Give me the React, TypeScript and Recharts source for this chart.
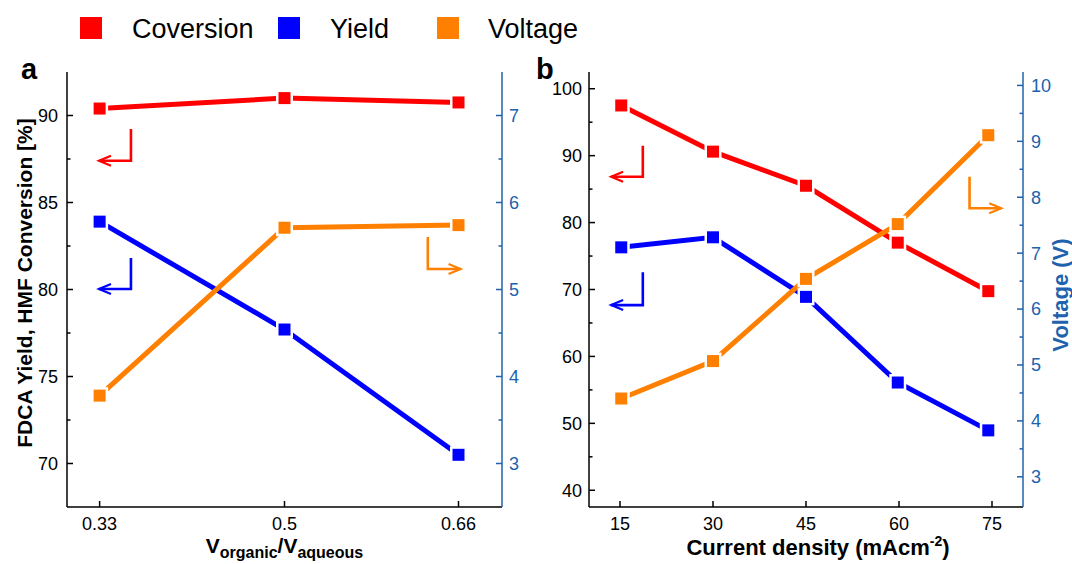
import React from "react";
import { LineChart, Line, XAxis, YAxis, ReferenceLine } from "recharts";

const FONT = "'Liberation Sans', Arial, Helvetica, sans-serif";
const RED = "#ff0000";
const BLUE = "#0000ff";
const ORANGE = "#ff8000";
const AXIS_BLUE = "#2062ad";

// panel a: organic / aqueous volume ratio
const ratioValues = [0.33, 0.5, 0.66];
const ratioConversion = [90.4, 91.0, 90.75];
const ratioYield = [83.9, 77.7, 70.5];
const ratioVoltage = [3.78, 5.71, 5.74];
const ratioTicks = [0.33, 0.5, 0.66];
const ratioPctTicks = [70, 75, 80, 85, 90];
const ratioPctMinor = [72.5, 77.5, 82.5, 87.5];
const ratioVoltTicks = [3, 4, 5, 6, 7];
const ratioVoltMinor = [3.5, 4.5, 5.5, 6.5];

// panel b: current density
const densityValues = [15.2, 30, 45, 59.8, 74.4];
const densityConversion = [97.5, 90.6, 85.5, 77.0, 69.75];
const densityYield = [76.3, 77.8, 68.9, 56.1, 48.95];
const densityVoltage = [4.4, 5.07, 6.54, 7.52, 9.11];
const densityTicks = [15, 30, 45, 60, 75];
const densityPctTicks = [40, 50, 60, 70, 80, 90, 100];
const densityPctMinor = [45, 55, 65, 75, 85, 95];
const densityVoltTicks = [3, 4, 5, 6, 7, 8, 9, 10];
const densityVoltMinor = [3.5, 4.5, 5.5, 6.5, 7.5, 8.5, 9.5];

const ratioData = ratioValues.map((x, i) => ({
  x,
  conversion: ratioConversion[i],
  yield: ratioYield[i],
  voltage: ratioVoltage[i],
}));

const densityData = densityValues.map((x, i) => ({
  x,
  conversion: densityConversion[i],
  yield: densityYield[i],
  voltage: densityVoltage[i],
}));

type Side = "left" | "right" | "bottom" | "top";

// inward ticks, major ones labelled
function makeTick(side: Side, major: number[], margin: number, color: string) {
  return (props: any) => {
    const { x, y, payload, index } = props;
    const v = payload.value;
    const isMajor = major.some((m) => Math.abs(m - v) < 1e-9);
    const len = isMajor ? 6 : 3.5;
    const lineStyle = { stroke: color, strokeWidth: 1.5 };
    const textStyle = { fontSize: 18, fontFamily: FONT, fill: color };
    let tickLine = null;
    let label = null;
    if (side === "left") {
      const ax = x + margin;
      tickLine = <line x1={ax} x2={ax + len} y1={y} y2={y} {...lineStyle} />;
      label = (
        <text x={x} y={y} dy="0.355em" textAnchor="end" {...textStyle}>
          {v}
        </text>
      );
    } else if (side === "right") {
      const ax = x - margin;
      tickLine = <line x1={ax - len} x2={ax} y1={y} y2={y} {...lineStyle} />;
      label = (
        <text x={x} y={y} dy="0.355em" textAnchor="start" {...textStyle}>
          {v}
        </text>
      );
    } else if (side === "bottom") {
      const ay = y - margin;
      tickLine = <line x1={x} x2={x} y1={ay - len} y2={ay} {...lineStyle} />;
      label = (
        <text x={x} y={y} dy="0.71em" textAnchor="middle" {...textStyle}>
          {v}
        </text>
      );
    } else {
      tickLine = <line x1={x} x2={x} y1={y} y2={y + len} {...lineStyle} />;
    }
    return (
      <g key={`tick-${side}-${index}`}>
        {tickLine}
        {isMajor && label}
      </g>
    );
  };
}

// square marker with a white gap around it, like the Origin plot
const squareDot = (color: string) => (props: any) => {
  const { cx, cy, index } = props;
  if (cx == null || cy == null) return <g key={`d-${index}`} />;
  return (
    <g key={`d-${color}-${index}`}>
      <rect x={cx - 8.5} y={cy - 8.5} width={17} height={17} fill="#fff" />
      <rect x={cx - 6} y={cy - 6} width={12} height={12} fill={color} />
    </g>
  );
};

// L-shaped arrow: vertical stroke at the first point, then horizontal to the tip
const arrowShape = (color: string) => (p: any) => {
  const { x1, y1, x2, y2 } = p;
  const dir = x2 > x1 ? 1 : -1;
  return (
    <g>
      <path d={`M${x1},${y1} V${y2} H${x2}`} fill="none" stroke={color} strokeWidth={2.6} />
      <path
        d={`M${x2 - dir * 12},${y2 - 5} L${x2},${y2} L${x2 - dir * 12},${y2 + 5}`}
        fill="none"
        stroke={color}
        strokeWidth={2.2}
      />
    </g>
  );
};

const merge = (a: number[], b: number[]) => [...a, ...b].sort((p, q) => p - q);

const lineProps = {
  strokeWidth: 5,
  strokeLinecap: "round" as const,
  activeDot: false,
  isAnimationActive: false,
};

function RatioChart() {
  return (
    <LineChart width={540} height={564} data={ratioData} margin={{ top: 72, right: 0, bottom: 0, left: 0 }}>
      <XAxis
        dataKey="x"
        type="number"
        domain={[0.3, 0.7]}
        ticks={ratioTicks}
        interval={0}
        height={57}
        tickSize={0}
        tickMargin={10}
        tickLine={false}
        axisLine={{ stroke: "#000", strokeWidth: 1.5 }}
        tick={makeTick("bottom", ratioTicks, 10, "#000")}
      />
      <XAxis
        xAxisId="top"
        orientation="top"
        type="number"
        domain={[0.3, 0.7]}
        ticks={ratioTicks}
        interval={0}
        height={0}
        tickSize={0}
        tickMargin={0}
        tickLine={false}
        axisLine={{ stroke: "#000", strokeWidth: 1.5 }}
        tick={makeTick("top", ratioTicks, 0, "#000")}
      />
      <YAxis
        yAxisId="left"
        type="number"
        domain={[67.5, 92.5]}
        ticks={merge(ratioPctTicks, ratioPctMinor)}
        interval={0}
        width={67}
        tickSize={0}
        tickMargin={9}
        tickLine={false}
        axisLine={{ stroke: "#000", strokeWidth: 1.5 }}
        tick={makeTick("left", ratioPctTicks, 9, "#000")}
      />
      <YAxis
        yAxisId="right"
        orientation="right"
        type="number"
        domain={[2.5, 7.5]}
        ticks={merge(ratioVoltTicks, ratioVoltMinor)}
        interval={0}
        width={38}
        tickSize={0}
        tickMargin={7}
        tickLine={false}
        axisLine={{ stroke: AXIS_BLUE, strokeWidth: 1.5 }}
        tick={makeTick("right", ratioVoltTicks, 7, AXIS_BLUE)}
      />
      <ReferenceLine yAxisId="left" segment={[{ x: 0.3588, y: 89.22 }, { x: 0.3294, y: 87.4 }]} shape={arrowShape(RED)} />
      <ReferenceLine yAxisId="left" segment={[{ x: 0.3588, y: 81.81 }, { x: 0.3294, y: 80.03 }]} shape={arrowShape(BLUE)} />
      <ReferenceLine yAxisId="left" segment={[{ x: 0.6318, y: 83.02 }, { x: 0.6619, y: 81.18 }]} shape={arrowShape(ORANGE)} />
      <Line yAxisId="left" dataKey="yield" stroke={BLUE} dot={squareDot(BLUE)} {...lineProps} />
      <Line yAxisId="left" dataKey="conversion" stroke={RED} dot={squareDot(RED)} {...lineProps} />
      <Line yAxisId="right" dataKey="voltage" stroke={ORANGE} dot={squareDot(ORANGE)} {...lineProps} />
    </LineChart>
  );
}

function DensityChart() {
  return (
    <LineChart width={552} height={564} data={densityData} margin={{ top: 72, right: 0, bottom: 0, left: 0 }}>
      <XAxis
        dataKey="x"
        type="number"
        domain={[10, 80]}
        ticks={densityTicks}
        interval={0}
        height={57}
        tickSize={0}
        tickMargin={10}
        tickLine={false}
        axisLine={{ stroke: "#000", strokeWidth: 1.5 }}
        tick={makeTick("bottom", densityTicks, 10, "#000")}
      />
      <XAxis
        xAxisId="top"
        orientation="top"
        type="number"
        domain={[10, 80]}
        ticks={densityTicks}
        interval={0}
        height={0}
        tickSize={0}
        tickMargin={0}
        tickLine={false}
        axisLine={{ stroke: "#000", strokeWidth: 1.5 }}
        tick={makeTick("top", densityTicks, 0, "#000")}
      />
      <YAxis
        yAxisId="left"
        type="number"
        domain={[37.5, 102.5]}
        ticks={merge(densityPctTicks, densityPctMinor)}
        interval={0}
        width={69}
        tickSize={0}
        tickMargin={7}
        tickLine={false}
        axisLine={{ stroke: "#000", strokeWidth: 1.5 }}
        tick={makeTick("left", densityPctTicks, 7, "#000")}
      />
      <YAxis
        yAxisId="right"
        orientation="right"
        type="number"
        domain={[2.46, 10.24]}
        ticks={merge(densityVoltTicks, densityVoltMinor)}
        interval={0}
        width={49}
        tickSize={0}
        tickMargin={8}
        tickLine={false}
        axisLine={{ stroke: AXIS_BLUE, strokeWidth: 1.5 }}
        tick={makeTick("right", densityVoltTicks, 8, AXIS_BLUE)}
      />
      <ReferenceLine yAxisId="left" segment={[{ x: 18.68, y: 91.48 }, { x: 13.57, y: 86.85 }]} shape={arrowShape(RED)} />
      <ReferenceLine yAxisId="left" segment={[{ x: 18.68, y: 72.56 }, { x: 13.57, y: 67.67 }]} shape={arrowShape(BLUE)} />
      <ReferenceLine yAxisId="left" segment={[{ x: 71.38, y: 86.85 }, { x: 76.49, y: 82.13 }]} shape={arrowShape(ORANGE)} />
      <Line yAxisId="left" dataKey="yield" stroke={BLUE} dot={squareDot(BLUE)} {...lineProps} />
      <Line yAxisId="left" dataKey="conversion" stroke={RED} dot={squareDot(RED)} {...lineProps} />
      <Line yAxisId="right" dataKey="voltage" stroke={ORANGE} dot={squareDot(ORANGE)} {...lineProps} />
    </LineChart>
  );
}

const legendItems = [
  { name: "Coversion", color: RED, box: 80, text: 132 },
  { name: "Yield", color: BLUE, box: 278, text: 330 },
  { name: "Voltage", color: ORANGE, box: 437, text: 488 },
];

export default function App() {
  return (
    <div style={{ position: "absolute", left: 0, top: 0, width: 1072, height: 564, background: "#fff", fontFamily: FONT }}>
      <div style={{ position: "absolute", left: 0, top: 0 }}>
        <RatioChart />
      </div>
      <div style={{ position: "absolute", left: 520, top: 0 }}>
        <DensityChart />
      </div>
      <svg width={1072} height={564} style={{ position: "absolute", left: 0, top: 0, pointerEvents: "none" }} fontFamily={FONT}>
        {legendItems.map((it) => (
          <g key={it.name}>
            <rect x={it.box} y={17} width={22} height={22} fill={it.color} />
            <text x={it.text} y={38} fontSize={27} fill="#000">
              {it.name}
            </text>
          </g>
        ))}
        <text x={21} y={79} fontSize={29} fontWeight="bold" fill="#000">a</text>
        <text x={536} y={79} fontSize={29} fontWeight="bold" fill="#000">b</text>
        <text
          x={24}
          y={283}
          transform="rotate(-90, 24, 283)"
          textAnchor="middle"
          dominantBaseline="central"
          fontSize={21}
          fontWeight="bold"
          fill="#000"
        >
          FDCA Yield, HMF Conversion [%]
        </text>
        <text x={284.5} y={553} textAnchor="middle" fontWeight="bold" fill="#000" fontSize={21}>
          <tspan>V</tspan>
          <tspan fontSize={16} dy={5}>organic</tspan>
          <tspan dy={-5}>/V</tspan>
          <tspan fontSize={16} dy={5}>aqueous</tspan>
        </text>
        <text x={818} y={555} textAnchor="middle" fontWeight="bold" fill="#000" fontSize={22}>
          <tspan>Current density (mAcm</tspan>
          <tspan fontSize={14} dy={-9}>-2</tspan>
          <tspan dy={9}>)</tspan>
        </text>
        <text
          x={1060}
          y={295}
          transform="rotate(-90, 1060, 295)"
          textAnchor="middle"
          dominantBaseline="central"
          fontSize={22}
          fontWeight="bold"
          fill={AXIS_BLUE}
        >
          Voltage (V)
        </text>
      </svg>
    </div>
  );
}
